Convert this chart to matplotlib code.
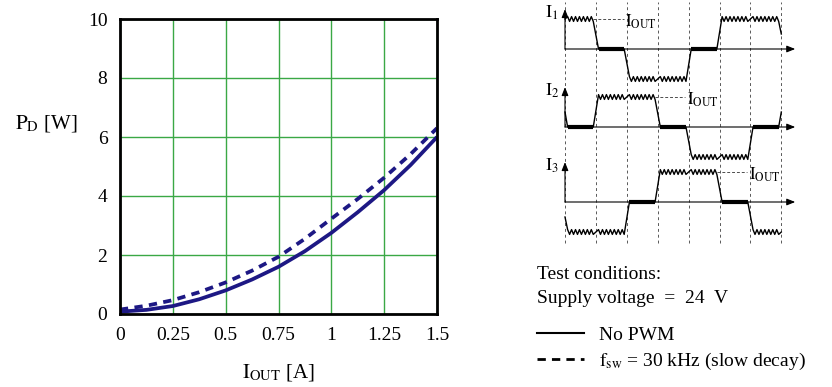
import matplotlib
matplotlib.use("Agg")
import matplotlib.pyplot as plt
from matplotlib.lines import Line2D
import numpy as np

plt.rcParams['font.family'] = ['Liberation Serif', 'DejaVu Serif']
plt.rcParams['mathtext.fontset'] = 'stix'
plt.rcParams['path.simplify'] = False

# power dissipation curves
i_out = [0, 0.125, 0.25, 0.375, 0.5, 0.625, 0.75, 0.875, 1.0, 1.125, 1.25, 1.375, 1.5]
pd_no_pwm = [0.08, 0.14, 0.27, 0.5, 0.8, 1.17, 1.6, 2.13, 2.75, 3.45, 4.2, 5.05, 6.0]
pd_30khz = [0.15, 0.28, 0.47, 0.74, 1.07, 1.47, 1.94, 2.55, 3.23, 3.9, 4.62, 5.42, 6.3]
x_ticks = [0, 0.25, 0.5, 0.75, 1, 1.25, 1.5]
x_tick_labels = ['0', '0.25', '0.5', '0.75', '1', '1.25', '1.5']
y_ticks = [0, 2, 4, 6, 8, 10]

# phase current waveforms: level per step, with the level before and after
steps = [0, 1, 2, 3, 4, 5, 6, 7]
i1_levels = [1, 0, -1, -1, 0, 1, 1]
i2_levels = [0, 1, 1, 0, -1, -1, 0]
i3_levels = [-1, -1, 0, 1, 1, 0, -1]
prev_levels = [1, 1, 0]
next_levels = [0, 1, -1]
phase_names = ['1', '2', '3']
phase_offsets = [0, -2.6, -5.1]

navy = '#1d1884'
green = '#3aa845'

fig = plt.figure(figsize=(8.32, 3.87), dpi=100)
W, H = 832, 387

# ---- left chart ----
ax = fig.add_axes([120 / W, 1 - 314 / H, 317 / W, 295 / H])
ax.plot(i_out, pd_no_pwm, color=navy, lw=2.7, solid_capstyle='butt')
ax.plot(i_out, pd_30khz, color=navy, lw=2.7, dashes=(2.2, 1.7))
ax.set_xlim(0, 1.5)
ax.set_ylim(0, 10)
ax.set_xticks(x_ticks)
ax.set_xticklabels(x_tick_labels)
ax.set_yticks(y_ticks)
ax.grid(True, color=green, lw=1)
ax.tick_params(length=0, labelsize=14, pad=9)
for s in ax.spines.values():
    s.set_linewidth(2)
ax.set_xlabel(r'$\mathrm{I}_{\mathrm{OUT}}$ [A]', fontsize=15, labelpad=13)
fig.text(15 / W, 1 - 123 / H, r'$\mathrm{P}_{\mathrm{D}}$ [W]', fontsize=15,
         va='center', ha='left')

# ---- right diagram ----
px0, px1, py0, py1 = 540, 812, 0, 250
t_scale = 30.9  # px per step
lev_px = 30.0
ax2 = fig.add_axes([px0 / W, 1 - py1 / H, (px1 - px0) / W, (py1 - py0) / H])
ax2.set_xlim((px0 - 565) / t_scale, (px1 - 565) / t_scale)
ax2.set_ylim((49 - py1) / lev_px, (49 - py0) / lev_px)
ax2.axis('off')

for t in steps:
    ax2.plot([t, t], [(49 - 243) / lev_px, (49 - 2) / lev_px], color='0.35',
             lw=0.7, ls=(0, (3, 3)))

w = 0.17
zz_per = 0.13
zz_amp = 0.08


def zigzag(a, b, lev):
    n = max(2, int(round((b - a) / (zz_per / 2))))
    ts = np.linspace(a, b, n + 1)
    ys = lev + zz_amp * np.where(np.arange(n + 1) % 2 == 0, 1, -1)
    return list(ts), list(ys)


arrow = dict(arrowstyle='-|>,head_length=0.5,head_width=0.2',
             color='black', lw=0.8, shrinkA=0, shrinkB=0)

for k, levels in enumerate([i1_levels, i2_levels, i3_levels]):
    off = phase_offsets[k]
    xs = [0.0]
    ys = [(prev_levels[k] + levels[0]) / 2]
    zero_segs = []
    for j, lev in enumerate(levels):
        a = steps[j] + w / 2
        b = steps[j + 1] - w / 2
        if lev == 0:
            xs += [a, b]
            ys += [0, 0]
            zero_segs.append((a, b))
        else:
            zt, zy = zigzag(a, b, lev)
            xs += zt
            ys += zy
    xs.append(steps[-1])
    ys.append((levels[-1] + next_levels[k]) / 2)
    ax2.plot(xs, np.array(ys) + off, color='black', lw=1.0, snap=False)
    for a, b in zero_segs:
        ax2.plot([a, b], [off, off], color='black', lw=3, solid_capstyle='butt')

    # axes with arrows
    ax2.annotate('', xy=(7.45, off), xytext=(0, off), arrowprops=arrow)
    ax2.annotate('', xy=(0, off + 1.33), xytext=(0, off), arrowprops=arrow)
    ax2.text(-0.42, off + 1.22, r'$\mathrm{I}_{%s}$' % phase_names[k], fontsize=13,
             ha='center', va='center')

    # I_OUT leader at the end of the first high plateau
    j = levels.index(1)
    while j + 1 < len(levels) and levels[j + 1] == 1:
        j += 1
    t_end = steps[j + 1] - w / 2
    ax2.plot([t_end, t_end + 0.98], [off + 1, off + 1], color='0.3', lw=0.7,
             ls=(0, (3, 2)))
    ax2.text(t_end + 1.03, off + 0.92, r'$\mathrm{I}_{\mathrm{OUT}}$', fontsize=12,
             ha='left', va='center')

# ---- test conditions and legend ----
fig.text(537 / W, 1 - 279 / H, 'Test conditions:', fontsize=14, va='baseline')
fig.text(537 / W, 1 - 303 / H, 'Supply voltage  =  24  V', fontsize=14, va='baseline')
handles = [Line2D([], [], color='black', lw=1.5),
           Line2D([], [], color='black', lw=2, dashes=(3, 2.2))]
labels = ['No PWM', r'$\mathrm{f}_{\mathrm{sw}}$ = 30 kHz (slow decay)']
fig.legend(handles, labels, loc='upper left', bbox_to_anchor=(537 / W, 1 - 326 / H),
           frameon=False, fontsize=14, handlelength=2.4, handletextpad=0.8,
           labelspacing=0.35, borderpad=0, borderaxespad=0)

fig.savefig('out.png', dpi=100)
